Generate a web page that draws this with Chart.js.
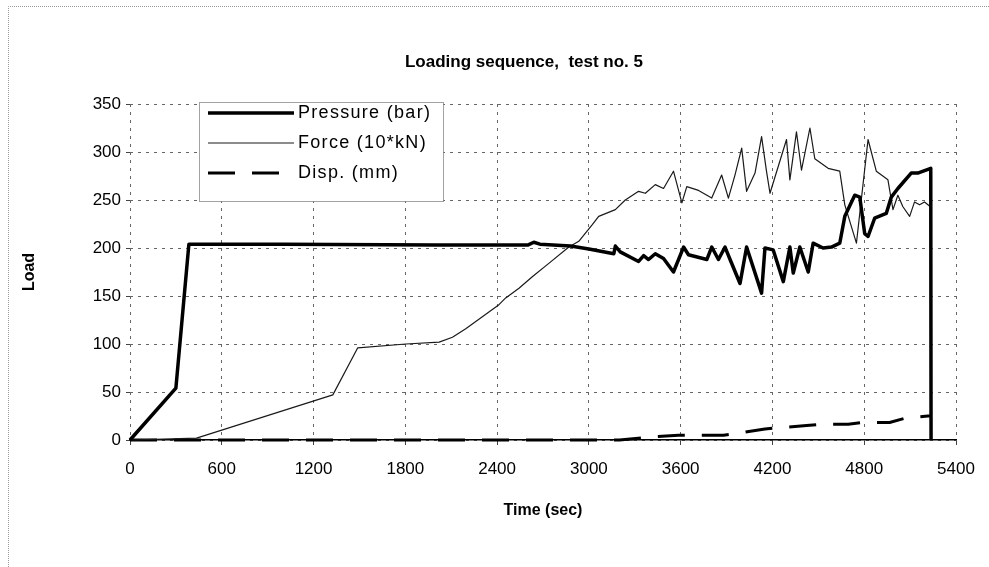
<!DOCTYPE html>
<html>
<head>
<meta charset="utf-8">
<script src="https://cdn.jsdelivr.net/npm/chart.js@4.4.1/dist/chart.umd.min.js"></script>
<style>
    body { margin: 0; background: #fff; }
    #wrap { width: 989px; height: 567px; position: relative; }
</style>
</head>
<body>
<div id="wrap"><canvas id="chart"></canvas></div>
<script>
// values
const pressureTime = [0, 300, 385, 1000, 2000, 2600, 2640, 2680, 2880, 3000, 3163, 3173, 3205, 3325, 3358, 3390, 3434, 3488, 3553, 3619, 3651, 3771, 3803, 3847, 3890, 3923, 3988, 4031, 4129, 4151, 4205, 4271, 4314, 4336, 4379, 4434, 4466, 4531, 4586, 4640, 4673, 4738, 4771, 4803, 4825, 4868, 4944, 4977, 5020, 5107, 5150, 5235, 5237];
const pressureLoad = [0, 54, 204, 204, 203, 203, 206, 204, 202, 199, 194, 202, 196, 186, 192, 188, 194, 189, 175, 201, 193, 188, 201, 188, 201, 188, 163, 201, 153, 200, 198, 165, 201, 174, 201, 175, 205, 200, 201, 205, 233, 255, 253, 215, 212, 231, 236, 253, 262, 278, 278, 283, 0];

const forceTime = [0, 435, 1326, 1489, 1804, 2021, 2108, 2195, 2412, 2456, 2543, 2630, 2738, 2869, 2934, 3021, 3064, 3173, 3238, 3325, 3369, 3434, 3488, 3553, 3608, 3640, 3717, 3803, 3868, 3912, 3955, 3999, 4031, 4086, 4129, 4161, 4184, 4292, 4314, 4357, 4390, 4445, 4477, 4564, 4640, 4673, 4749, 4825, 4879, 4955, 4988, 5020, 5053, 5097, 5129, 5162, 5194, 5233, 5237];
const forceLoad = [0, 2, 47, 96, 100, 102, 107, 116, 141, 148, 158, 170, 184, 201, 207, 224, 233, 240, 250, 259, 257, 266, 262, 280, 247, 264, 260, 252, 276, 252, 276, 304, 259, 278, 316, 280, 257, 313, 271, 321, 281, 325, 293, 283, 280, 245, 205, 313, 280, 271, 240, 255, 243, 233, 248, 245, 248, 243, 0];

const dispTime = [0, 3200, 3434, 3586, 3717, 3880, 3977, 4151, 4260, 4423, 4520, 4695, 4792, 4966, 5074, 5216, 5233];
const dispLoad = [0, 0, 3.5, 5, 5, 5, 7, 11.5, 13, 15, 16.3, 16.3, 18.3, 18.3, 23, 25, 25];

const seriesNames = ['Pressure (bar)', 'Force (10*kN)', 'Disp. (mm)'];
const xTicks = [0, 600, 1200, 1800, 2400, 3000, 3600, 4200, 4800, 5400];
const yTicks = [0, 50, 100, 150, 200, 250, 300, 350];
const chartTitle = 'Loading sequence,  test no. 5';

const toPoints = (xs, ys) => xs.map((x, i) => ({ x, y: ys[i] }));
const FONT = 'Liberation Sans, Arial, sans-serif';

// title sits a little left of the plot centre in the original
const titleText = {
    id: 'titleText',
    afterDraw(chart) {
        const ctx = chart.ctx;
        ctx.save();
        ctx.fillStyle = '#000';
        ctx.font = 'bold 17px ' + FONT;
        ctx.textAlign = 'center';
        ctx.textBaseline = 'middle';
        ctx.fillText(chartTitle, 524, 62);
        ctx.restore();
    }
};

// white legend box drawn inside the plot, like the original
const boxLegend = {
    id: 'boxLegend',
    afterDatasetsDraw(chart) {
        const ctx = chart.ctx;
        const box = { x: 199.5, y: 102.5, w: 244, h: 99 };
        const rows = [113, 143, 173];
        ctx.save();
        ctx.fillStyle = '#fff';
        ctx.fillRect(box.x, box.y, box.w, box.h);
        ctx.strokeStyle = '#444';
        ctx.lineWidth = 1;
        ctx.setLineDash([1, 1]);
        ctx.strokeRect(box.x, box.y, box.w, box.h);
        chart.data.datasets.forEach((ds, i) => {
            const y = rows[i];
            ctx.strokeStyle = ds.borderColor;
            ctx.lineWidth = ds.borderWidth;
            ctx.setLineDash(ds.borderDash || []);
            ctx.beginPath();
            ctx.moveTo(208, y);
            ctx.lineTo(ds.borderDash ? 282 : 294, y);
            ctx.stroke();
            ctx.setLineDash([]);
            ctx.fillStyle = '#000';
            ctx.font = '18px ' + FONT;
            ctx.letterSpacing = '1.3px';
            ctx.textBaseline = 'middle';
            ctx.fillText(ds.label, 298, y);
        });
        ctx.restore();
    }
};

// faint frame round the picture
const outerFrame = {
    id: 'outerFrame',
    beforeDraw(chart) {
        const ctx = chart.ctx;
        ctx.save();
        ctx.strokeStyle = '#999';
        ctx.lineWidth = 1;
        ctx.setLineDash([1, 1]);
        ctx.beginPath();
        ctx.moveTo(8.5, 567);
        ctx.lineTo(8.5, 6.5);
        ctx.lineTo(989, 6.5);
        ctx.stroke();
        ctx.restore();
    }
};

new Chart(document.getElementById('chart'), {
    type: 'line',
    data: {
        datasets: [
            { label: seriesNames[0], data: toPoints(pressureTime, pressureLoad), borderColor: '#000', borderWidth: 3.5, clip: 6 },
            { label: seriesNames[1], data: toPoints(forceTime, forceLoad), borderColor: '#1a1a1a', borderWidth: 1.2, clip: 6 },
            { label: seriesNames[2], data: toPoints(dispTime, dispLoad), borderColor: '#000', borderWidth: 3, borderDash: [27, 17], clip: 6 }
        ]
    },
    options: {
        responsive: true,
        maintainAspectRatio: false,
        animation: false,
        layout: { padding: { top: 104, right: 33, bottom: 0, left: 0 } },
        elements: { point: { radius: 0 }, line: { tension: 0, borderJoinStyle: 'round' } },
        plugins: {
            legend: { display: false },
            tooltip: { enabled: false },
            title: { display: false }
        },
        scales: {
            x: {
                type: 'linear',
                min: 0,
                max: 5400,
                afterBuildTicks: s => { s.ticks = xTicks.map(v => ({ value: v })); },
                afterFit: s => { s.height = 127; },
                ticks: { color: '#000', padding: 14, font: { family: FONT, size: 17 }, callback: v => String(v) },
                grid: { color: '#666', lineWidth: 1, tickLength: 5, tickColor: '#444' },
                border: { display: true, color: '#000', width: 1.5, dash: [3, 5] },
                title: {
                    display: true,
                    text: 'Time (sec)',
                    color: '#000',
                    font: { family: FONT, size: 16, weight: 'bold', lineHeight: 1.2 },
                    padding: { top: 0, bottom: 47 }
                }
            },
            y: {
                min: 0,
                max: 350,
                afterBuildTicks: s => { s.ticks = yTicks.map(v => ({ value: v })); },
                afterFit: s => { s.width = 130; },
                ticks: { color: '#000', padding: 5, font: { family: FONT, size: 17 }, callback: v => String(v) },
                grid: { color: '#666', lineWidth: 1, tickLength: 4, tickColor: '#444' },
                border: { display: false, dash: [3, 5] },
                title: {
                    display: true,
                    text: 'Load',
                    color: '#000',
                    font: { family: FONT, size: 16, weight: 'bold', lineHeight: 1.2 },
                    padding: { top: 20, bottom: 0 }
                }
            }
        }
    },
    plugins: [outerFrame, boxLegend, titleText]
});
</script>
</body>
</html>
